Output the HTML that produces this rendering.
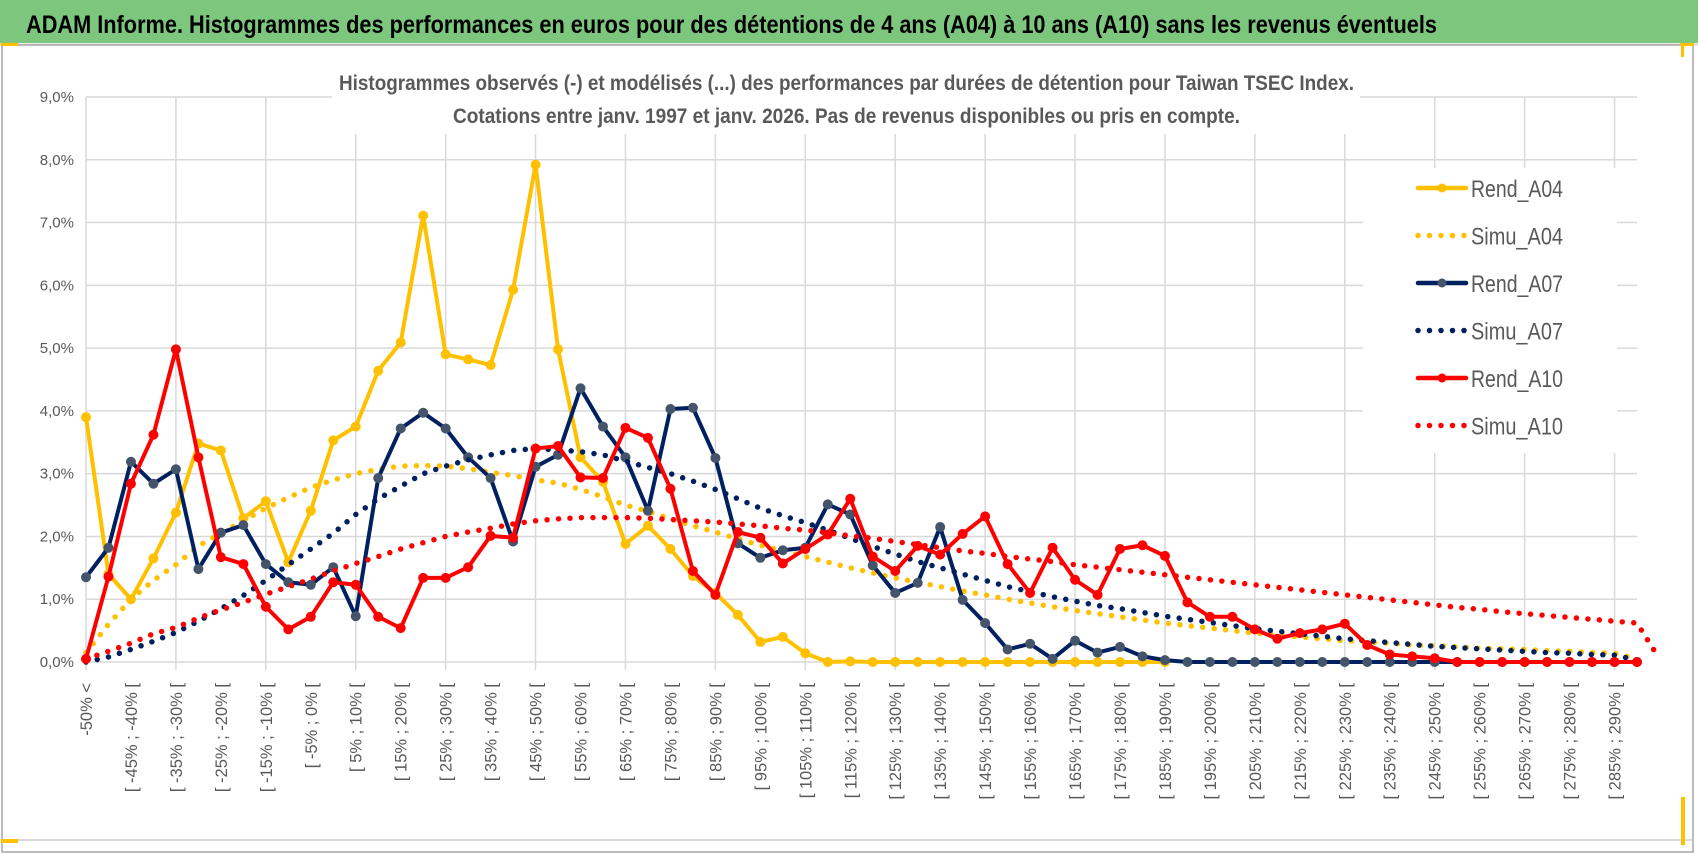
<!DOCTYPE html>
<html><head><meta charset="utf-8"><style>
html,body{margin:0;padding:0;background:#fff;}
svg{display:block;font-family:"Liberation Sans",sans-serif;}
</style></head><body>
<svg id="chart" width="1698" height="854" viewBox="0 0 1698 854" xmlns="http://www.w3.org/2000/svg">
<rect x="0" y="0" width="1698" height="854" fill="#fff"/>
<rect x="0" y="0" width="1698" height="43" fill="#7dc67e"/>
<line x1="0" y1="44.5" x2="1698" y2="44.5" stroke="#d9d9d9" stroke-width="2"/>
<text x="26" y="33" font-size="25" font-weight="bold" fill="#000" textLength="1411" lengthAdjust="spacingAndGlyphs">ADAM Informe. Histogrammes des performances en euros pour des détentions de 4 ans (A04) à 10 ans (A10) sans les revenus éventuels</text>
<rect x="2" y="45" width="1691" height="807" fill="none" stroke="#a6a6a6" stroke-width="1.5"/>
<line x1="2" y1="840" x2="1692" y2="840" stroke="#d9d9d9" stroke-width="2"/>
<rect x="1" y="43" width="17" height="3" fill="#ffc000"/>
<rect x="1" y="839" width="17" height="4" fill="#ffc000"/>
<rect x="1680" y="43" width="14" height="3" fill="#ffc000"/>
<rect x="1681" y="43" width="3" height="14" fill="#ffc000"/>
<rect x="1681" y="797" width="4" height="48" fill="#ffc000"/>
<g id="grid"></g>
<rect x="332" y="58" width="1028" height="76" fill="#fff"/>
<text x="339" y="90" font-size="21" font-weight="bold" fill="#595959" textLength="1015" lengthAdjust="spacingAndGlyphs">Histogrammes observés (-) et modélisés (...) des performances par durées de détention pour Taiwan TSEC Index.</text>
<text x="453" y="123" font-size="21" font-weight="bold" fill="#595959" textLength="787" lengthAdjust="spacingAndGlyphs">Cotations entre janv. 1997 et janv. 2026. Pas de revenus disponibles ou pris en compte.</text>
<g id="yaxis"></g>
<g id="xaxis"></g>
<g id="series"></g>
<rect x="1363" y="168" width="254" height="285" fill="#fff"/>
<g id="legend"></g>
</svg>
<script>
const categories = (function(){const a=["-50% <"];for(let k=1;k<70;k++){const s=-55+5*k;a.push("[ "+s+"% ; "+(s+5)+"% [");}return a;})();
const yTicks = [0,1,2,3,4,5,6,7,8,9];
const yTickLabels = ["0,0%","1,0%","2,0%","3,0%","4,0%","5,0%","6,0%","7,0%","8,0%","9,0%"];
const rendA04 = [3.9,1.4,1.0,1.65,2.38,3.48,3.37,2.29,2.56,1.59,2.41,3.53,3.75,4.64,5.09,7.11,4.9,4.82,4.73,5.93,7.92,4.98,3.26,2.87,1.88,2.17,1.8,1.37,1.1,0.75,0.32,0.4,0.14,0,0.01,0,0,0,0,0,0,0,0,0,0,0,0,0,0,null,null,null,null,null,null,null,null,null,null,null,null,null,null,null,null,null,null,null,null,null];
const simuA04 = [0.15,0.6,1.0,1.3,1.55,1.85,2.05,2.25,2.45,2.62,2.78,2.9,3.0,3.07,3.12,3.13,3.12,3.08,3.02,2.97,2.9,2.85,2.75,2.63,2.5,2.4,2.28,2.17,2.07,1.96,1.86,1.77,1.68,1.59,1.5,1.42,1.34,1.27,1.2,1.13,1.07,1.0,0.94,0.88,0.82,0.77,0.72,0.67,0.62,0.58,0.54,0.5,0.46,0.43,0.4,0.37,0.34,0.32,0.3,0.27,0.26,0.24,0.22,0.21,0.2,0.18,0.17,0.15,0.14,0.05];
const rendA07 = [1.35,1.82,3.19,2.84,3.07,1.48,2.06,2.18,1.56,1.27,1.23,1.51,0.73,2.93,3.72,3.97,3.72,3.26,2.93,1.92,3.11,3.3,4.36,3.75,3.26,2.41,4.03,4.05,3.25,1.89,1.66,1.78,1.82,2.51,2.35,1.54,1.1,1.26,2.15,0.99,0.62,0.2,0.29,0.05,0.34,0.15,0.24,0.09,0.03,0,0,0,0,0,0,0,0,0,0,0,0,0,0,0,0,0,0,0,0,0];
const simuA07 = [0.0,0.08,0.2,0.33,0.47,0.65,0.85,1.06,1.3,1.55,1.8,2.05,2.35,2.6,2.8,3.0,3.12,3.22,3.3,3.37,3.4,3.38,3.35,3.3,3.2,3.1,3.0,2.88,2.75,2.6,2.45,2.33,2.22,2.1,1.97,1.84,1.72,1.6,1.5,1.4,1.3,1.2,1.12,1.04,0.97,0.9,0.85,0.79,0.73,0.68,0.63,0.58,0.53,0.49,0.45,0.41,0.37,0.34,0.31,0.28,0.25,0.23,0.21,0.19,0.17,0.15,0.14,0.12,0.11,0.03];
const rendA10 = [0.05,1.36,2.84,3.62,4.98,3.26,1.67,1.56,0.88,0.52,0.72,1.27,1.23,0.72,0.54,1.34,1.34,1.51,2.01,1.98,3.40,3.44,2.94,2.93,3.73,3.57,2.76,1.45,1.07,2.07,1.98,1.57,1.8,2.03,2.6,1.68,1.45,1.85,1.71,2.04,2.32,1.56,1.1,1.82,1.31,1.07,1.8,1.86,1.69,0.95,0.72,0.72,0.52,0.37,0.46,0.52,0.61,0.27,0.12,0.09,0.06,0,0,0,0,0,0,0,0,0];
const simuA10 = [0.05,0.17,0.3,0.45,0.55,0.7,0.83,0.95,1.08,1.2,1.32,1.45,1.57,1.68,1.8,1.9,2.0,2.07,2.13,2.2,2.25,2.28,2.3,2.3,2.3,2.29,2.27,2.25,2.23,2.2,2.17,2.13,2.1,2.06,2.01,1.97,1.92,1.87,1.82,1.77,1.73,1.68,1.64,1.6,1.55,1.51,1.47,1.43,1.39,1.35,1.31,1.27,1.23,1.19,1.15,1.11,1.07,1.03,0.99,0.95,0.91,0.87,0.84,0.8,0.77,0.74,0.71,0.68,0.65,0.62,0.05];
const seriesNames = ["Rend_A04","Simu_A04","Rend_A07","Simu_A07","Rend_A10","Simu_A10"];

const NS="http://www.w3.org/2000/svg";
const X0=86, X1=1637, Y0=662, Y9=97;
function xScale(i){return X0+(X1-X0)*i/(categories.length-1);}
function yScale(v){return Y0-(Y0-Y9)*v/9;}
function mk(tag,attrs,parent){const e=document.createElementNS(NS,tag);for(const k in attrs)e.setAttribute(k,attrs[k]);parent.appendChild(e);return e;}

const grid=document.getElementById('grid');
yTicks.forEach(function(t){
  const l=mk('line',{x1:X0,x2:X1,y1:yScale(t),y2:yScale(t),stroke:'#d9d9d9','stroke-width':1.5},grid);
  
  
});
for(let i=0;i<categories.length;i+=4){
  const l=mk('line',{x1:xScale(i),x2:xScale(i),y1:Y9,y2:Y0+8,stroke:'#d9d9d9','stroke-width':1.5},grid);
  
  
}
const yaxis=document.getElementById('yaxis');
yTicks.forEach(function(t,i){
  const tx=mk('text',{x:74,y:yScale(t)+5,'font-size':15,fill:'#595959','text-anchor':'end'},yaxis);
  tx.textContent=yTickLabels[i];
  
  
});
const xaxis=document.getElementById('xaxis');
categories.forEach(function(c,i){
  if(i%2!==0)return;
  const x=xScale(i)+6, y=683;
  const tx=mk('text',{x:x,y:y,'font-size':16.5,fill:'#595959','text-anchor':'end',transform:'rotate(-90 '+x+' '+y+')'},xaxis);
  tx.textContent=c;
  
  
});

const sg=document.getElementById('series');
function drawLine(vals,color,name,dotted,markerFill){
  let d='',pen=false;
  vals.forEach(function(v,i){
    if(v===null){pen=false;return;}
    d+=(pen?'L':'M')+xScale(i).toFixed(2)+','+yScale(v).toFixed(2);pen=true;
  });
  const p=mk('path',{d:d,fill:'none',stroke:color,'stroke-width':dotted?5.5:4,'stroke-linejoin':'round','stroke-linecap':'round'},sg);
  if(dotted)p.setAttribute('stroke-dasharray','0 11.5');
  
  
  if(!dotted){
    vals.forEach(function(v,i){
      if(v===null)return;
      const c=mk('circle',{cx:xScale(i),cy:yScale(v),r:4.5,fill:markerFill,stroke:markerFill},sg);
      
      
    });
  }
}
drawLine(rendA04,'#ffc000','rend-a04',false,'#ffc000');
drawLine(simuA04,'#ffc000','simu-a04',true);
drawLine(rendA07,'#002060','rend-a07',false,'#44546a');
drawLine(simuA07,'#002060','simu-a07',true);
drawLine(rendA10,'#ff0000','rend-a10',false,'#ff0000');
drawLine(simuA10,'#ff0000','simu-a10',true);

const lg=document.getElementById('legend');
const lcolors=['#ffc000','#ffc000','#002060','#002060','#ff0000','#ff0000'];
const lmark=['#ffc000',null,'#44546a',null,'#ff0000',null];
seriesNames.forEach(function(n,i){
  const y=188+i*47.5;
  const g=mk('g',{},lg);
  
  
  const dotted=(i%2===1);
  const l=mk('line',{x1:1418,x2:1466,y1:y,y2:y,stroke:lcolors[i],'stroke-width':dotted?5.5:4.5,'stroke-linecap':'round'},g);
  if(dotted)l.setAttribute('stroke-dasharray','0 11.5');
  if(lmark[i]){mk('circle',{cx:1442,cy:y,r:4.5,fill:lmark[i]},g);}
  const t=mk('text',{x:1471,y:y+9,'font-size':24,fill:'#595959',textLength:92,lengthAdjust:'spacingAndGlyphs'},g);
  t.textContent=n;
});
</script>
</body></html>
